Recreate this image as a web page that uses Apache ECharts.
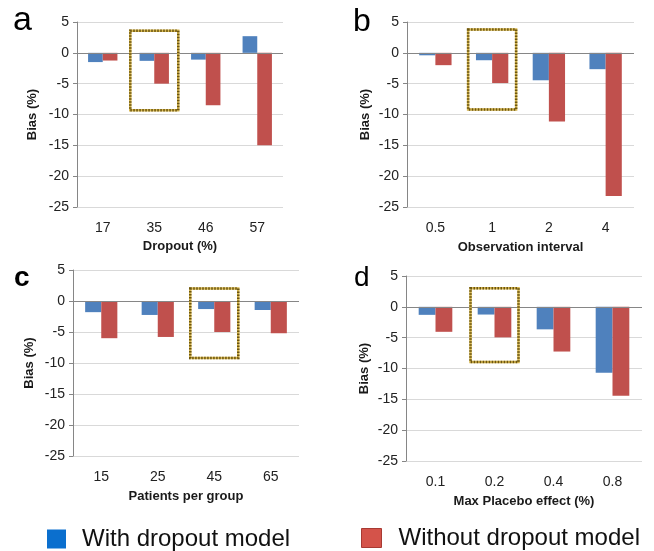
<!DOCTYPE html>
<html>
<head>
<meta charset="utf-8">
<script src="https://cdn.jsdelivr.net/npm/echarts@6/dist/echarts.min.js"></script>
<style>
  html, body { margin: 0; padding: 0; background: #fff; }
  #chart { width: 654px; height: 551px; }
</style>
</head>
<body>
<div id="chart"></div>
<script>
// values (bias in %)
var catsA = ['17', '35', '46', '57'];
var withA = [-1.5, -1.3, -1.1, 2.7];
var withoutA = [-1.25, -5.0, -8.5, -15.0];

var catsB = ['0.5', '1', '2', '4'];
var withB = [-0.4, -1.2, -4.45, -2.65];
var withoutB = [-2.0, -4.9, -11.15, -23.2];

var catsC = ['15', '25', '45', '65'];
var withC = [-1.8, -2.25, -1.3, -1.45];
var withoutC = [-6.0, -5.8, -5.0, -5.2];

var catsD = ['0.1', '0.2', '0.4', '0.8'];
var withD = [-1.3, -1.25, -3.65, -10.7];
var withoutD = [-4.05, -4.95, -7.25, -14.4];

// dotted highlight boxes: [category, top, bottom]
var boxA = ['35', 3.6, -9.3];
var boxB = ['1', 3.8, -9.2];
var boxC = ['45', 2.0, -9.2];
var boxD = ['0.2', 3.0, -8.95];

var xNames = ['Dropout (%)', 'Observation interval', 'Patients per group', 'Max Placebo effect (%)'];
var panelLetters = ['a', 'b', 'c', 'd'];
var seriesNames = ['With dropout model', 'Without dropout model'];

var blue = '#4f81bd';
var red = '#c0504d';
var font = 'Liberation Sans, Arial, sans-serif';

var layout = [
    { left: 77, top: 22, width: 206, height: 185, yGap: 38, xGap: 33 },
    { left: 407, top: 22, width: 227, height: 185, yGap: 35, xGap: 34 },
    { left: 73, top: 270, width: 226, height: 186, yGap: 37, xGap: 34 },
    { left: 406, top: 276, width: 236, height: 185, yGap: 35, xGap: 34 }
];
var letterPos = [
    { left: 13, top: 4, size: 34, weight: 'normal' },
    { left: 353, top: 6, size: 32, weight: 'normal' },
    { left: 14, top: 264, size: 28, weight: 'bold' },
    { left: 354, top: 264, size: 28, weight: 'normal' }
];

var panels = [
    [catsA, withA, withoutA, boxA],
    [catsB, withB, withoutB, boxB],
    [catsC, withC, withoutC, boxC],
    [catsD, withD, withoutD, boxD]
];

function boxItem(params, api) {
    var p1 = api.coord([api.value(0), api.value(1)]);
    var p2 = api.coord([api.value(0), api.value(2)]);
    var shape = { x: p1[0] - 24, y: p1[1], width: 48, height: p2[1] - p1[1] };
    return {
        type: 'group',
        children: [
            { type: 'rect', shape: shape, style: { fill: 'none', stroke: '#d8b850', lineWidth: 2.5 } },
            { type: 'rect', shape: shape, style: { fill: 'none', stroke: '#6b5512', lineWidth: 2.5, lineDash: [1.5, 1.5] } }
        ]
    };
}

var grid = [], xAxis = [], yAxis = [], series = [], title = [];
for (var i = 0; i < panels.length; i++) {
    var p = panels[i], L = layout[i];
    grid.push({ left: L.left, top: L.top, width: L.width, height: L.height });
    xAxis.push({
        type: 'category',
        gridIndex: i,
        data: p[0],
        name: xNames[i],
        nameLocation: 'middle',
        nameGap: L.xGap,
        nameTextStyle: { fontSize: 13, fontWeight: 'bold', color: '#1a1a1a', fontFamily: font },
        axisLine: { show: false, onZero: false },
        axisTick: { show: false },
        axisLabel: { fontSize: 14, color: '#222', margin: 14, fontFamily: font }
    });
    yAxis.push({
        type: 'value',
        gridIndex: i,
        min: -25,
        max: 5,
        interval: 5,
        name: 'Bias (%)',
        nameLocation: 'middle',
        nameGap: L.yGap,
        nameTextStyle: { fontSize: 13, fontWeight: 'bold', color: '#1a1a1a', fontFamily: font },
        axisLine: { show: true, lineStyle: { color: '#868686', width: 1 } },
        axisTick: { show: true, length: 4, lineStyle: { color: '#868686' } },
        axisLabel: { fontSize: 14, color: '#222', margin: 8, fontFamily: font },
        splitLine: { lineStyle: { color: '#d9d9d9', width: 1.2 } }
    });
    series.push({
        name: seriesNames[0],
        type: 'bar',
        xAxisIndex: i,
        yAxisIndex: i,
        data: p[1],
        barGap: 0,
        barCategoryGap: '43%',
        itemStyle: { color: blue },
        markLine: {
            silent: true,
            symbol: 'none',
            label: { show: false },
            lineStyle: { color: '#868686', type: 'solid', width: 1.2 },
            data: [{ yAxis: 0 }]
        }
    });
    series.push({
        name: seriesNames[1],
        type: 'bar',
        xAxisIndex: i,
        yAxisIndex: i,
        data: p[2],
        barGap: 0,
        barCategoryGap: '43%',
        itemStyle: { color: red }
    });
    series.push({
        type: 'custom',
        xAxisIndex: i,
        yAxisIndex: i,
        data: [p[3]],
        encode: { x: 0, y: [1, 2] },
        renderItem: boxItem,
        z: 10,
        silent: true
    });
    title.push({
        text: panelLetters[i],
        left: letterPos[i].left,
        top: letterPos[i].top,
        padding: 0,
        textStyle: { fontSize: letterPos[i].size, fontWeight: letterPos[i].weight, color: '#000', fontFamily: font }
    });
}

var myChart = echarts.init(document.getElementById('chart'));
myChart.setOption({
    animation: false,
    textStyle: { fontFamily: font },
    title: title,
    grid: grid,
    xAxis: xAxis,
    yAxis: yAxis,
    legend: [
        {
            left: 47, top: 527, padding: 0,
            itemWidth: 19, itemHeight: 19,
            icon: 'rect',
            data: [{ name: seriesNames[0], itemStyle: { color: '#0b6fce' } }],
            textStyle: { fontSize: 24, color: '#111', padding: [0, 0, 0, 11], fontFamily: font }
        },
        {
            left: 361, top: 526, padding: 0,
            itemWidth: 20, itemHeight: 19,
            icon: 'rect',
            data: [{ name: seriesNames[1], itemStyle: { color: '#d4534a', borderColor: '#a83a33', borderWidth: 1 } }],
            textStyle: { fontSize: 24, color: '#111', padding: [0, 0, 0, 12], fontFamily: font }
        }
    ],
    series: series
});
</script>
</body>
</html>
